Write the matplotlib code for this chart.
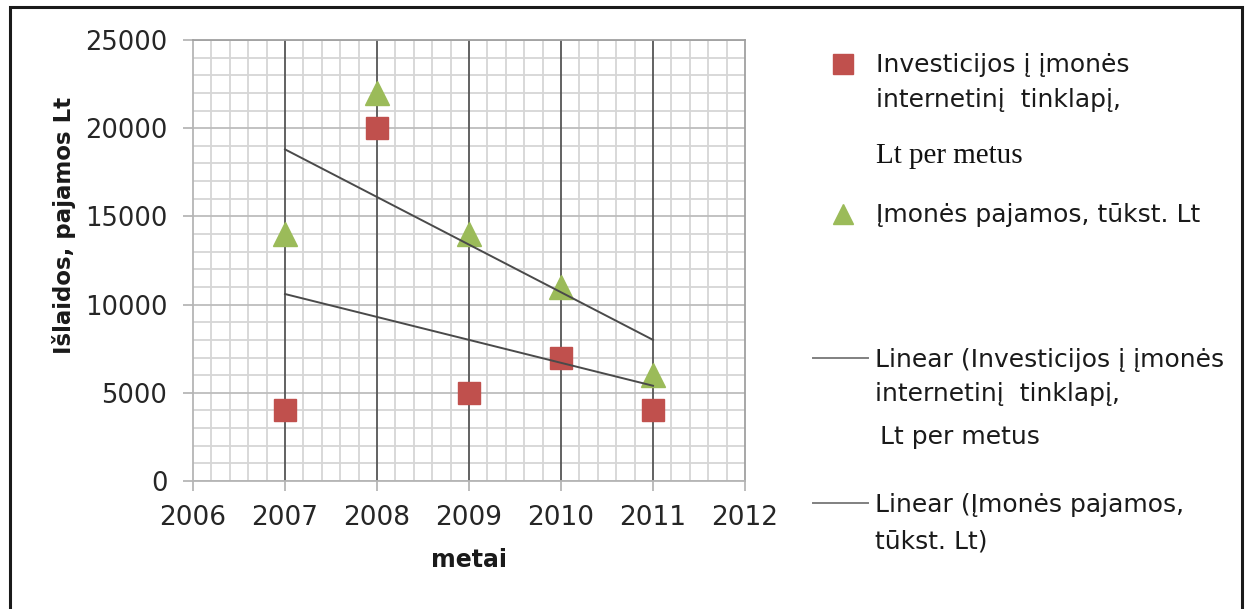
import matplotlib
matplotlib.use("Agg")
import matplotlib.pyplot as plt
from matplotlib.ticker import MultipleLocator
from matplotlib.lines import Line2D
import numpy as np

# Data
years = [2007, 2008, 2009, 2010, 2011]
investicijos = [4000, 20000, 5000, 7000, 4000]      # Lt per metus
pajamos = [14000, 22000, 14000, 11000, 6000]        # tūkst. Lt
x_ticks = [2006, 2007, 2008, 2009, 2010, 2011, 2012]
y_ticks = [0, 5000, 10000, 15000, 20000, 25000]

RED = "#C0504D"
GREEN = "#9BBB59"
TREND = "#4a4a4a"
SANS = "DejaVu Sans"

fig = plt.figure(figsize=(12.5, 6.09), dpi=100)
W, H = 1250, 609
ax = fig.add_axes([193 / W, 1 - 481 / H, 552 / W, 441 / H])

ax.set_xlim(2006, 2012)
ax.set_ylim(0, 25000)
ax.set_xticks(x_ticks)
ax.set_yticks(y_ticks)
ax.xaxis.set_minor_locator(MultipleLocator(0.2))
ax.yaxis.set_minor_locator(MultipleLocator(1000))

# Grid
ax.grid(which="minor", color="#d6d6d6", lw=1.3, zorder=0)
ax.grid(which="major", axis="y", color="#bdbdbd", lw=1.3, zorder=0)
ax.set_axisbelow(True)
ax.vlines(years, 0, 25000, color="#555555", lw=1.3, zorder=1)

for side in ["left", "bottom"]:
    ax.spines[side].set_color("#b5b5b5")
    ax.spines[side].set_linewidth(1.3)
for side in ["top", "right"]:
    ax.spines[side].set_color("#a0a0a0")
    ax.spines[side].set_linewidth(1.3)

ax.tick_params(which="major", direction="out", length=7, width=1.2,
               color="#b0b0b0", labelcolor="#262626")
ax.tick_params(axis="x", which="major", labelsize=19, pad=10)
ax.tick_params(axis="y", which="major", labelsize=18.5, pad=11.5)
ax.tick_params(which="minor", length=0)
for lbl in ax.get_xticklabels() + ax.get_yticklabels():
    lbl.set_family(SANS)

ax.set_xlabel("metai", fontsize=17, fontweight="bold", family=SANS,
              color="#1a1a1a")
ax.xaxis.set_label_coords(0.5, (481 - 560) / 441)
ax.xaxis.label.set_va("center")
ax.set_ylabel("Išlaidos, pajamos Lt", fontsize=16.5, fontweight="bold",
              family=SANS, color="#1a1a1a")
ax.yaxis.set_label_coords((64 - 193) / 552, (481 - 225) / 441)
ax.yaxis.label.set_va("center")

# Scatter series
ax.plot(years, investicijos, ls="none", marker="s", ms=16.5, color=RED,
        mec=RED, zorder=3, clip_on=False)
ax.plot(years, pajamos, ls="none", marker="^", ms=17, color=GREEN,
        mec=GREEN, zorder=3, clip_on=False)

# Linear trend lines
xs = np.array(years, dtype=float)
for series in (investicijos, pajamos):
    k, b = np.polyfit(xs, np.array(series, dtype=float), 1)
    ax.plot(xs, k * xs + b, color=TREND, lw=1.4, zorder=4)

# Legend drawn in figure pixel coordinates
def fx(px):
    return px / W

def fy(py):
    return 1 - py / H

tkw = dict(fontsize=18, family=SANS, color="#1a1a1a", va="center", ha="left")
fig.add_artist(Line2D([fx(843)], [fy(64)], marker="s", ms=14, color=RED,
                      ls="none"))
fig.text(fx(876), fy(65), "Investicijos į įmonės", **tkw)
fig.text(fx(876), fy(100), "internetinį  tinklapį,", **tkw)
fig.text(fx(876), fy(156), "Lt per metus", fontsize=21,
         family="Liberation Serif", color="#111111", va="center", ha="left")

fig.add_artist(Line2D([fx(843)], [fy(214)], marker="^", ms=14, color=GREEN,
                      ls="none"))
fig.text(fx(876), fy(215), "Įmonės pajamos, tūkst. Lt", **tkw)

fig.add_artist(Line2D([fx(813), fx(868)], [fy(358), fy(358)], color="#808080",
                      lw=1.4))
fig.text(fx(875), fy(360), "Linear (Investicijos į įmonės", **tkw)
fig.text(fx(875), fy(394), "internetinį  tinklapį,", **tkw)
fig.text(fx(880), fy(437), "Lt per metus", **tkw)

fig.add_artist(Line2D([fx(813), fx(868)], [fy(503), fy(503)], color="#808080",
                      lw=1.4))
fig.text(fx(875), fy(505), "Linear (Įmonės pajamos,", **tkw)
fig.text(fx(875), fy(541), "tūkst. Lt)", **tkw)

# Outer frame (open at the bottom)
fig.add_artist(Line2D([fx(10), fx(10), fx(1242), fx(1242)],
                      [fy(612), fy(7), fy(7), fy(612)],
                      color="#1a1a1a", lw=2.2, solid_joinstyle="miter"))

fig.savefig("out.png", dpi=100, facecolor="white")
